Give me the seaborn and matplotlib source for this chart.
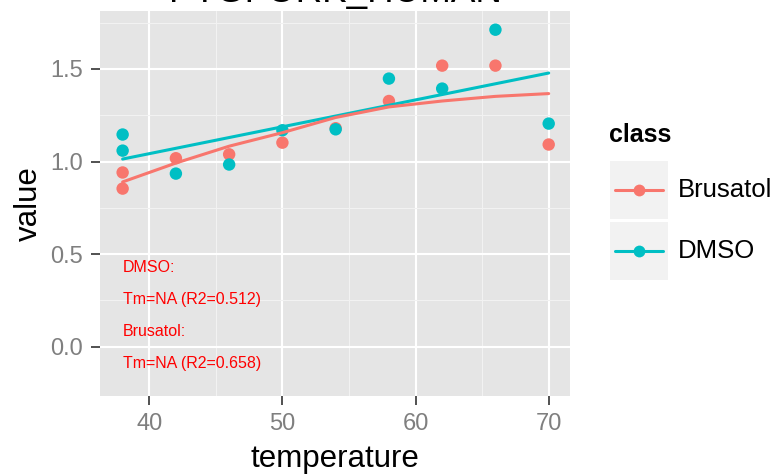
import matplotlib
matplotlib.use("Agg")
import pandas as pd
import matplotlib.pyplot as plt
import seaborn as sns
from matplotlib.lines import Line2D
from matplotlib.patches import Rectangle

# === DATA ===
title = "PTGFORK_HUMAN"
temperature = [38, 38, 42, 46, 50, 54, 58, 62, 66, 70]
brusatol = [0.941, 0.854, 1.018, 1.039, 1.102, 1.180, 1.327, 1.518, 1.518, 1.092]
dmso = [1.146, 1.059, 0.935, 0.984, 1.169, 1.174, 1.448, 1.394, 1.712, 1.205]

# fitted curve for Brusatol
fit_temp = [38, 42, 46, 50, 54, 58, 62, 66, 70]
fit_brusatol = [0.890, 0.992, 1.083, 1.156, 1.238, 1.295, 1.327, 1.352, 1.367]

classes = ["Brusatol", "DMSO"]
colors = ["#F8766D", "#00BFC4"]

xticks = [40, 50, 60, 70]
yticks = [0.0, 0.5, 1.0, 1.5]
ytick_labels = ["0.0", "0.5", "1.0", "1.5"]

notes = ["DMSO:", "Tm=NA (R2=0.512)", "Brusatol:", "Tm=NA (R2=0.658)"]
note_y = [0.428, 0.256, 0.081, -0.090]

df = pd.DataFrame({
    "temperature": temperature * 2,
    "value": brusatol + dmso,
    "class": ["Brusatol"] * len(brusatol) + ["DMSO"] * len(dmso),
})

# === STYLE ===
sns.set_style("dark")
plt.rcParams["font.family"] = ["Liberation Sans", "DejaVu Sans"]
plt.rcParams["text.color"] = "black"

fig = plt.figure(figsize=(7.79, 4.75), dpi=100)
ax = fig.add_axes([100 / 779, 1 - 396 / 475, 470 / 779, 385 / 475])
ax.set_facecolor("#E5E5E5")
for s in ax.spines.values():
    s.set_visible(False)

# === PLOT ===
sns.scatterplot(data=df, x="temperature", y="value", hue="class", hue_order=classes,
                palette=colors, s=80, edgecolor="none", legend=False, ax=ax, zorder=3)
sns.regplot(x=temperature, y=dmso, scatter=False, ci=None, color=colors[1],
            line_kws={"lw": 2.2, "zorder": 4}, ax=ax)
sns.lineplot(x=fit_temp, y=fit_brusatol, color=colors[0], lw=2.2, ax=ax, zorder=4)

for txt, yy in zip(notes, note_y):
    ax.text(38, yy, txt, color="red", fontsize=11.5, ha="left", va="center", zorder=5)

ax.set_xlim(36.3, 71.6)
ax.set_ylim(-0.266, 1.813)
ax.set_xticks(xticks)
ax.set_xticks([45, 55, 65], minor=True)
ax.set_yticks(yticks)
ax.set_yticklabels(ytick_labels)
ax.set_yticks([0.25, 0.75, 1.25, 1.75], minor=True)
ax.grid(which="major", color="white", lw=1.5)
ax.grid(which="minor", color="#F2F2F2", lw=0.8)
ax.set_axisbelow(True)
ax.tick_params(which="major", length=6.5, width=1.2, color="#333333", pad=6,
               labelsize=17, labelcolor="#7F7F7F", bottom=True, left=True)
ax.tick_params(which="minor", length=0)
ax.set_xlabel("temperature", fontsize=22.5, color="black", labelpad=6)
ax.set_ylabel("value", fontsize=22.5, color="black", labelpad=4)

fig.text(335 / 779, 1 - 2 / 475, title, fontsize=26.5, ha="center", va="baseline")

# === LEGEND ===
W, H = 779, 475
fig.text(609 / W, 1 - 135 / H, "class", fontsize=18, fontweight="bold", ha="left", va="center")
key_tops = [161, 222]
for name, col, top in zip(classes, colors, key_tops):
    fig.add_artist(Rectangle((610 / W, 1 - (top + 58) / H), 58 / W, 58 / H,
                             transform=fig.transFigure, facecolor="#F2F2F2", edgecolor="none"))
    cy = 1 - (top + 29) / H
    fig.add_artist(Line2D([615 / W, 663 / W], [cy, cy], transform=fig.transFigure,
                          color=col, lw=2.2))
    fig.add_artist(Line2D([639 / W], [cy], transform=fig.transFigure, color=col,
                          marker="o", markersize=8.5, markeredgewidth=0, linestyle="none"))
    fig.text(678 / W, cy, name, fontsize=18.5, ha="left", va="center")

fig.savefig("out.png", dpi=100)
